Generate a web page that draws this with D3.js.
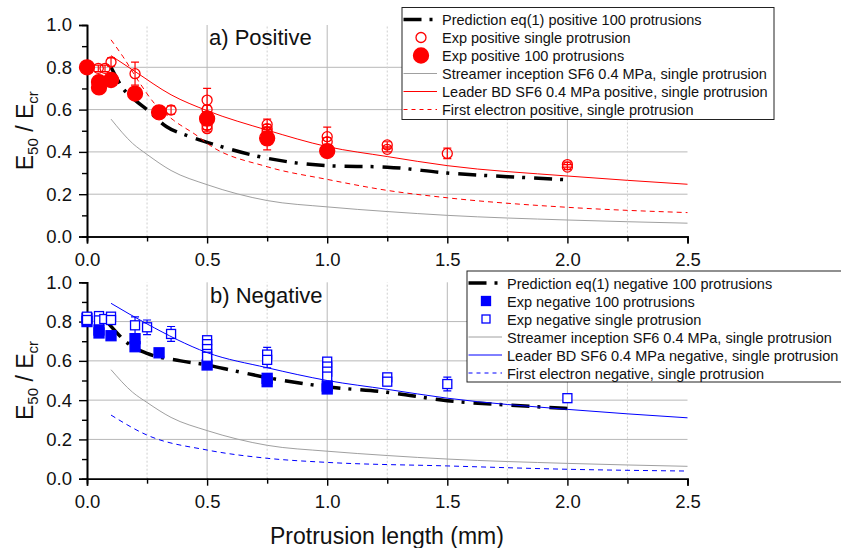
<!DOCTYPE html>
<html>
<head>
<meta charset="utf-8">
<script src="https://cdn.jsdelivr.net/npm/d3@7"></script>
<style>
  body { margin: 0; background: #fff; }
  text { font-family: "Liberation Sans", Arial, sans-serif; fill: #111; }
</style>
</head>
<body>
<script>
// ---- data ----
// x = protrusion length (mm), y = E50 / Ecr
let majorX = [0, 0.5, 1.0, 1.5, 2.0, 2.5];
let minorX = [0.25, 0.75, 1.25, 1.75, 2.25];
let majorY = [0, 0.2, 0.4, 0.6, 0.8, 1.0];
let minorY = [0.1, 0.3, 0.5, 0.7, 0.9];

// shared streamer inception curve (both panels)
let streamer = [[0.1, 0.555], [0.19, 0.44], [0.25, 0.388], [0.35, 0.312], [0.5, 0.245], [0.75, 0.17],
  [1.0, 0.14], [1.25, 0.118], [1.5, 0.1], [2.0, 0.078], [2.5, 0.063]];

// a) positive
let predPos = [[0.1, 0.80], [0.15, 0.70], [0.2, 0.645], [0.25, 0.60], [0.33, 0.52], [0.43, 0.472], [0.55, 0.428],
  [0.75, 0.37], [1.0, 0.335], [1.25, 0.328], [1.5, 0.30], [1.75, 0.283], [2.0, 0.268]];
let singlePos = [[0.047, 0.795, 0.015], [0.075, 0.795, 0.015], [0.1, 0.825, 0.02], [0.2, 0.77, 0.054],
  [0.35, 0.598, 0.02], [0.5, 0.645, 0.055], [0.5, 0.60, 0.02], [0.5, 0.57, 0.02], [0.5, 0.525, 0.02],
  [0.5, 0.51, 0.015], [0.75, 0.53, 0.025], [0.75, 0.51, 0.02], [0.75, 0.495, 0.02], [1.0, 0.472, 0.045],
  [1.0, 0.448, 0.02], [1.25, 0.433, 0.015], [1.25, 0.412, 0.012], [1.5, 0.393, 0.025], [2.0, 0.34, 0.012],
  [2.0, 0.328, 0.012]];
let hundredPos = [[0, 0.80, 0], [0.05, 0.73, 0], [0.05, 0.705, 0], [0.1, 0.74, 0], [0.2, 0.676, 0],
  [0.3, 0.587, 0], [0.5, 0.557, 0], [0.75, 0.464, 0.054], [1.0, 0.404, 0]];
let leaderPos = [[0.1, 0.855], [0.2, 0.78], [0.35, 0.67], [0.5, 0.595], [0.75, 0.503], [1.0, 0.425],
  [1.25, 0.378], [1.5, 0.335], [2.0, 0.286], [2.5, 0.247]];
let electronPos = [[0.1, 0.93], [0.15, 0.85], [0.22, 0.725], [0.28, 0.63], [0.36, 0.55], [0.46, 0.475],
  [0.5, 0.44], [0.75, 0.33], [1.0, 0.27], [1.25, 0.218], [1.5, 0.183], [2.0, 0.138], [2.5, 0.113]];

// b) negative
let predNeg = [[0.09, 0.79], [0.18, 0.68], [0.25, 0.638], [0.39, 0.60], [0.5, 0.579], [0.61, 0.55],
  [0.75, 0.515], [1.0, 0.468], [1.25, 0.44], [1.5, 0.397], [1.75, 0.375], [2.0, 0.358]];
let hundredNeg = [[0, 0.817, 0], [0, 0.80, 0], [0.05, 0.757, 0], [0.05, 0.742, 0], [0.1, 0.728, 0],
  [0.2, 0.713, 0], [0.2, 0.672, 0], [0.3, 0.641, 0], [0.5, 0.579, 0], [0.75, 0.511, 0], [0.75, 0.494, 0],
  [1.0, 0.472, 0], [1.0, 0.457, 0]];
let singleNeg = [[0, 0.825, 0.01], [0, 0.808, 0.01], [0.05, 0.828, 0.01], [0.05, 0.806, 0.01],
  [0.072, 0.813, 0.01], [0.1, 0.825, 0.01], [0.1, 0.808, 0.01], [0.2, 0.781, 0.043], [0.25, 0.771, 0.037],
  [0.35, 0.737, 0.038], [0.5, 0.705, 0.012], [0.5, 0.685, 0.012], [0.5, 0.66, 0.012], [0.5, 0.635, 0.012],
  [0.5, 0.621, 0.012], [0.75, 0.632, 0.037], [0.75, 0.605, 0.04], [1.0, 0.596, 0.015], [1.0, 0.571, 0.015],
  [1.0, 0.545, 0.015], [1.0, 0.52, 0.015], [1.25, 0.516, 0.012], [1.25, 0.494, 0.012], [1.5, 0.482, 0.035],
  [2.0, 0.41, 0.01]];
let leaderNeg = [[0.1, 0.893], [0.25, 0.788], [0.5, 0.642], [0.75, 0.565], [1.0, 0.50], [1.25, 0.455],
  [1.5, 0.41], [2.0, 0.353], [2.5, 0.31]];
let electronNeg = [[0.1, 0.324], [0.25, 0.222], [0.5, 0.146], [0.75, 0.104], [1.0, 0.083], [1.5, 0.065],
  [2.0, 0.048], [2.5, 0.039]];

let legendPos = ["Prediction eq(1) positive  100 protrusions", "Exp positive single protrusion",
  "Exp positive 100 protrusions", "Streamer inception SF6 0.4 MPa, single protrusion",
  "Leader BD SF6 0.4 MPa positive, single protrusion", "First electron positive, single protrusion"];
let legendNeg = ["Prediction eq(1) negative 100 protrusions", "Exp negative 100 protrusions",
  "Exp negative single protrusion", "Streamer inception SF6 0.4 MPa, single protrusion",
  "Leader BD SF6 0.4 MPa negative, single protrusion", "First electron negative, single protrusion"];

// ---- layout ----
let svgWidth = 841;
let svgHeight = 548;
let red = "#ff0000", blue = "#0000ff", gray = "#a0a0a0";
let predDash = "18,8,3,9";

let svg = d3.select("body").append("svg")
  .attr("width", svgWidth)
  .attr("height", svgHeight);

let x = d3.scaleLinear().domain([0, 2.5]).range([87, 687.5]);
let yTop = d3.scaleLinear().domain([0, 1]).range([236.5, 25]);
let yBot = d3.scaleLinear().domain([0, 1]).range([478.7, 282.3]);

function drawPanel(y, opts) {
  let g = svg.append("g");
  let y0 = y(0), y1 = y(1);

  // grid
  g.selectAll(".hgrid").data([0.2, 0.4, 0.6, 0.8]).enter().append("line")
    .attr("x1", x(0)).attr("x2", x(2.5))
    .attr("y1", d => y(d)).attr("y2", d => y(d))
    .attr("stroke", "#b8b8b8").attr("stroke-width", 1);
  g.selectAll(".vgrid").data([0.5, 1.0, 1.5, 2.0]).enter().append("line")
    .attr("x1", d => x(d)).attr("x2", d => x(d))
    .attr("y1", y0).attr("y2", y1)
    .attr("stroke", "#b8b8b8").attr("stroke-width", 1);
  g.selectAll(".vminor").data(minorX).enter().append("line")
    .attr("x1", d => x(d)).attr("x2", d => x(d))
    .attr("y1", y0).attr("y2", y1)
    .attr("stroke", "#cfcfcf").attr("stroke-width", 1)
    .attr("stroke-dasharray", "2,2");

  // axes
  let fmt = d3.format(".1f");
  g.append("g").attr("transform", `translate(${x(0)},0)`)
    .call(d3.axisLeft(y).tickValues(majorY).tickFormat(fmt).tickSize(8).tickPadding(7));
  g.append("g").attr("transform", `translate(${x(0)},0)`)
    .call(d3.axisLeft(y).tickValues(minorY).tickFormat("").tickSize(5));
  g.append("g").attr("transform", `translate(0,${y0})`)
    .call(d3.axisBottom(x).tickValues(majorX).tickFormat(fmt).tickSize(7).tickPadding(9));
  g.append("g").attr("transform", `translate(0,${y0})`)
    .call(d3.axisBottom(x).tickValues(minorX).tickFormat("").tickSize(5));
  g.selectAll(".domain").attr("stroke", "#000").attr("stroke-width", 1.6);
  g.selectAll(".tick line").attr("stroke", "#000").attr("stroke-width", 1.4);
  g.selectAll(".tick text").style("font-size", "18.5px")
    .style("font-family", '"Liberation Sans", Arial, sans-serif').attr("fill", "#111");

  let line = d3.line().x(d => x(d[0])).y(d => y(d[1])).curve(d3.curveMonotoneX);

  // series in legend order
  opts.series.forEach(s => {
    if (s.type === "line") {
      g.append("path").datum(s.data)
        .attr("d", line)
        .attr("fill", "none")
        .attr("stroke", s.color)
        .attr("stroke-width", s.width)
        .attr("stroke-dasharray", s.dash || null);
    } else {
      let pts = g.append("g");
      let withErr = s.data.filter(d => d[2] > 0);
      pts.selectAll(".eb").data(withErr).enter().append("path")
        .attr("d", d => {
          let cx = x(d[0]), ya = y(d[1] + d[2]), yb = y(d[1] - d[2]);
          return `M${cx - 4},${ya}H${cx + 4}M${cx},${ya}V${yb}M${cx - 4},${yb}H${cx + 4}`;
        })
        .attr("fill", "none").attr("stroke", s.color).attr("stroke-width", 1.2);
      if (s.shape === "circle") {
        pts.selectAll(".m").data(s.data).enter().append("circle")
          .attr("cx", d => x(d[0])).attr("cy", d => y(d[1]))
          .attr("r", s.filled ? 7.5 : 5)
          .attr("fill", s.filled ? s.color : "none")
          .attr("stroke", s.color).attr("stroke-width", 1.3);
      } else {
        let sz = s.filled ? 10 : 9;
        pts.selectAll(".m").data(s.data).enter().append("rect")
          .attr("x", d => x(d[0]) - sz / 2).attr("y", d => y(d[1]) - sz / 2)
          .attr("width", sz).attr("height", sz)
          .attr("fill", s.filled ? s.color : "#fff")
          .attr("stroke", s.color).attr("stroke-width", 1.3);
      }
    }
  });

  // panel title
  g.append("text")
    .attr("x", opts.titleX).attr("y", opts.titleY)
    .style("font-size", "22px")
    .text(opts.title);

  // y axis title
  let yt = g.append("text")
    .attr("transform", `translate(33,${(y0 + y1) / 2}) rotate(-90)`)
    .attr("text-anchor", "middle")
    .style("font-size", "23px");
  yt.append("tspan").text("E");
  yt.append("tspan").attr("dy", 5).style("font-size", "15px").text("50");
  yt.append("tspan").attr("dy", -5).text(" / E");
  yt.append("tspan").attr("dy", 5).style("font-size", "15px").text("cr");

  // legend
  let L = opts.legend;
  let lg = svg.append("g");
  lg.append("rect")
    .attr("x", L.x).attr("y", L.y).attr("width", L.w).attr("height", L.h)
    .attr("fill", "#fff").attr("stroke", "#222").attr("stroke-width", 1);
  opts.series.forEach((s, i) => {
    let cy = L.y + 12 + i * 18;
    let sx0 = L.x + 1.5, sx1 = L.x + 35, mx = L.x + 19;
    if (s.type === "line") {
      lg.append("line")
        .attr("x1", sx0).attr("x2", sx1).attr("y1", cy).attr("y2", cy)
        .attr("stroke", s.color).attr("stroke-width", s.width)
        .attr("stroke-dasharray", s.legendDash || s.dash || null);
    } else if (s.shape === "circle") {
      lg.append("circle").attr("cx", mx).attr("cy", cy)
        .attr("r", s.filled ? 7.5 : 5)
        .attr("fill", s.filled ? s.color : "none")
        .attr("stroke", s.color).attr("stroke-width", 1.3);
    } else {
      let sz = s.filled ? 9 : 8;
      lg.append("rect").attr("x", mx - sz / 2).attr("y", cy - sz / 2)
        .attr("width", sz).attr("height", sz)
        .attr("fill", s.filled ? s.color : "#fff")
        .attr("stroke", s.color).attr("stroke-width", 1.3);
    }
    lg.append("text")
      .attr("x", L.x + 40).attr("y", cy + 5.5)
      .style("font-size", "14.5px")
      .text(L.labels[i]);
  });
}

drawPanel(yTop, {
  title: "a) Positive", titleX: 209, titleY: 45,
  series: [
    { type: "line", data: predPos, color: "#000", width: 3.5, dash: predDash },
    { type: "points", data: singlePos, color: red, shape: "circle", filled: false },
    { type: "points", data: hundredPos, color: red, shape: "circle", filled: true },
    { type: "line", data: streamer, color: gray, width: 1 },
    { type: "line", data: leaderPos, color: red, width: 1 },
    { type: "line", data: electronPos, color: red, width: 1, dash: "5,4", legendDash: "4,4" }
  ],
  legend: { x: 402, y: 7.5, w: 372, h: 112, labels: legendPos }
});

drawPanel(yBot, {
  title: "b) Negative", titleX: 210, titleY: 303,
  series: [
    { type: "line", data: predNeg, color: "#000", width: 3.5, dash: predDash },
    { type: "points", data: hundredNeg, color: blue, shape: "square", filled: true },
    { type: "points", data: singleNeg, color: blue, shape: "square", filled: false },
    { type: "line", data: streamer, color: gray, width: 1 },
    { type: "line", data: leaderNeg, color: blue, width: 1 },
    { type: "line", data: electronNeg, color: blue, width: 1, dash: "5,4", legendDash: "4,4" }
  ],
  legend: { x: 467, y: 271, w: 390, h: 111, labels: legendNeg }
});

svg.append("text")
  .attr("x", 387).attr("y", 544)
  .attr("text-anchor", "middle")
  .style("font-size", "23px")
  .text("Protrusion length (mm)");
</script>
</body>
</html>
